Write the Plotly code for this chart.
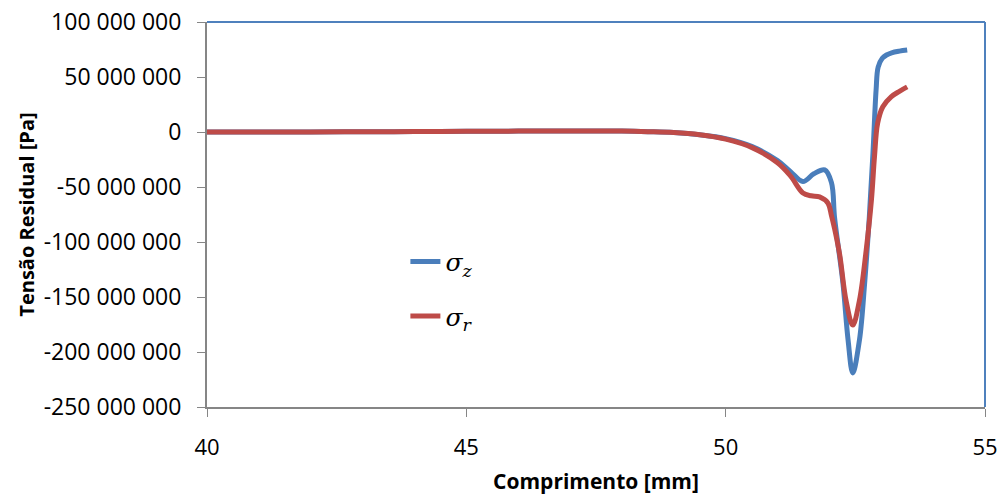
import plotly.graph_objects as go

# Comprimento [mm] / sigma_z [Pa]
x_z = [40, 41, 42, 43, 44, 45, 46, 47, 48, 48.5, 49, 49.5, 50, 50.5, 51, 51.25,
       51.49, 51.7, 51.91, 52.04, 52.1, 52.26, 52.36, 52.45, 52.58, 52.68, 52.77,
       52.84, 52.9, 52.94, 53.02, 53.1, 53.2, 53.35, 53.5]
sigma_z = [0, 0, 0, 0.2e6, 0.4e6, 0.6e6, 0.8e6, 1.0e6, 0.8e6, 0.3e6, -0.5e6, -2.5e6,
           -6e6, -13e6, -26e6, -36e6, -45e6, -38e6, -34.5e6, -46e6, -78e6, -137e6,
           -189e6, -219e6, -189e6, -137e6, -77e6, -19e6, 38e6, 59e6, 67e6, 70e6,
           72e6, 73.5e6, 74.5e6]

# Comprimento [mm] / sigma_r [Pa]
x_r = [40, 41, 42, 43, 44, 45, 46, 47, 48, 48.5, 49, 49.5, 50, 50.5, 51, 51.25,
       51.49, 51.65, 51.81, 51.97, 52.04, 52.1, 52.2, 52.32, 52.45, 52.58, 52.71,
       52.81, 52.87, 52.93, 53.03, 53.19, 53.35, 53.5]
sigma_r = [0, 0, 0, 0.2e6, 0.4e6, 0.6e6, 0.8e6, 1.0e6, 0.8e6, 0.3e6, -0.5e6, -2.5e6,
           -6.5e6, -14e6, -28e6, -40e6, -55.5e6, -58e6, -59e6, -64.5e6, -76e6, -88e6,
           -112e6, -153e6, -175.5e6, -153e6, -107e6, -62e6, -22e6, 8e6, 23e6, 32e6,
           37e6, 41e6]

y_tickvals = [100e6, 50e6, 0, -50e6, -100e6, -150e6, -200e6, -250e6]
y_ticktext = ["100 000 000", "50 000 000", "0", "-50 000 000", "-100 000 000",
              "-150 000 000", "-200 000 000", "-250 000 000"]
x_tickvals = [40, 45, 50, 55]

BLUE = "#4A7EBB"
RED = "#BE4B48"
AXIS = "#868686"
BORDER = "#4F81BD"
FONT = "Open Sans"

fig = go.Figure()
fig.add_trace(go.Scatter(
    x=x_z, y=sigma_z, mode="lines", name="<i>σ</i><sub><i>z</i></sub>",
    legendgroup="z",
    line=dict(color=BLUE, width=5, shape="spline", smoothing=1.0)))
fig.add_trace(go.Scatter(
    x=x_r, y=sigma_r, mode="lines", name="<i>σ</i><sub><i>r</i></sub>",
    legendgroup="r",
    line=dict(color=RED, width=5, shape="spline", smoothing=1.0)))

# plot-area border on top and right (blue)
fig.add_shape(type="line", xref="x domain", yref="y domain", x0=0, x1=1, y0=1, y1=1,
              line=dict(color=BORDER, width=2), layer="below")
fig.add_shape(type="line", xref="x domain", yref="y domain", x0=1, x1=1, y0=0, y1=1,
              line=dict(color=BORDER, width=2), layer="below")

fig.update_layout(
    width=1001, height=498,
    margin=dict(l=207, r=16, t=22, b=91, autoexpand=False),
    paper_bgcolor="white", plot_bgcolor="white",
    font=dict(family=FONT, size=20, color="black"),
    showlegend=True,
    legend=dict(x=0.255, y=0.437, xanchor="left", yanchor="top",
                bgcolor="rgba(0,0,0,0)", tracegroupgap=19,
                font=dict(family="DejaVu Serif", size=25, color="black")),
    xaxis=dict(range=[40, 55], tickvals=x_tickvals, showgrid=False, zeroline=False,
               automargin=False, ticklabeloverflow="allow",
               showline=True, linecolor=AXIS, linewidth=2, ticks="outside",
               ticklen=8, tickcolor=AXIS, tickwidth=1, ticklabelstandoff=12,
               tickfont=dict(family=FONT, size=22),
               title=dict(text="<b>Comprimento [mm]</b>", standoff=14,
                          font=dict(family=FONT, size=21))),
    yaxis=dict(range=[-250e6, 100e6], tickvals=y_tickvals, ticktext=y_ticktext,
               automargin=False, ticklabeloverflow="allow",
               showgrid=False, zeroline=False, showline=True, linecolor=AXIS,
               linewidth=2, ticks="outside", ticklen=8, tickcolor=AXIS, tickwidth=1,
               ticklabelstandoff=11, tickfont=dict(family=FONT, size=23),
               title=dict(text="<b>Tensão Residual [Pa]</b>", standoff=4,
                          font=dict(family=FONT, size=20))),
)

fig.write_html(
    "out.html",
    config={"displayModeBar": False},
    post_script="document.body.style.margin='0px';"
                "document.documentElement.style.overflow='hidden';",
)
